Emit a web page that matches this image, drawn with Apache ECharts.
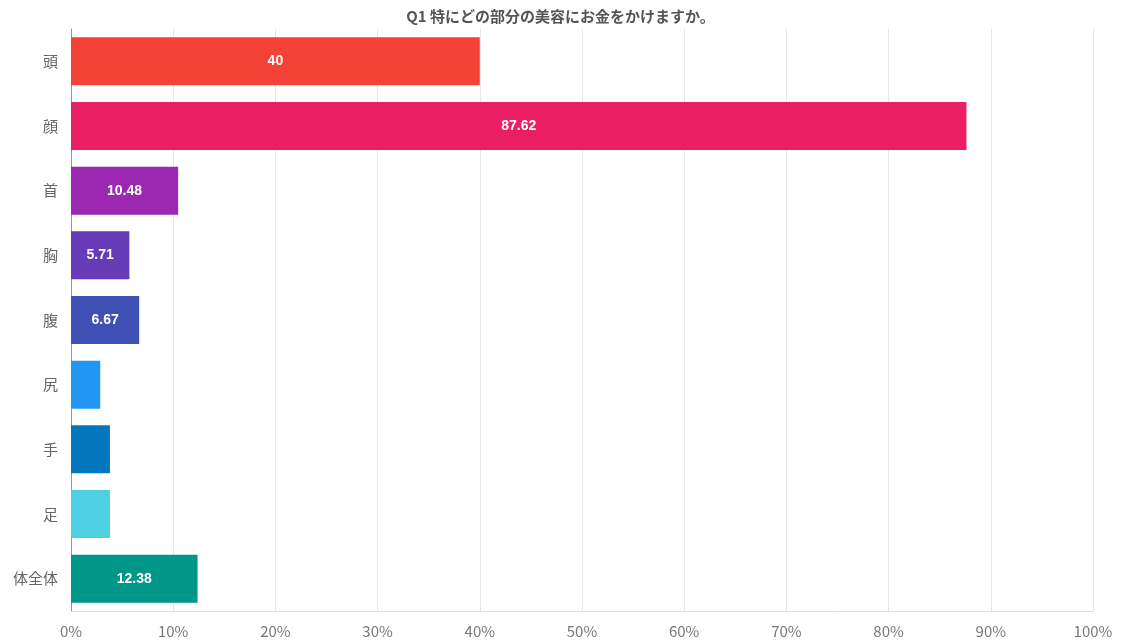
<!DOCTYPE html>
<html>
<head>
<meta charset="utf-8">
<script src="https://cdn.jsdelivr.net/npm/echarts@6/dist/echarts.min.js"></script>
<style>
  html, body { margin: 0; padding: 0; background: #ffffff; }
  #chart { width: 1121px; height: 643px; }
</style>
</head>
<body>
<div id="chart"></div>
<script>
// Body parts, top to bottom
const categories = ['頭', '顔', '首', '胸', '腹', '尻', '手', '足', '体全体'];
// Share of respondents (%)
const values = [40, 87.62, 10.48, 5.71, 6.67, 2.86, 3.81, 3.81, 12.38];
// One colour per bar
const barColors = ['#F44336', '#E91E63', '#9C27B0', '#673AB7', '#3F51B5', '#2196F3', '#0277BD', '#4DD0E1', '#009688'];
const titleText = 'Q1 特にどの部分の美容にお金をかけますか。';

const fontFamily = '"Noto Sans CJK JP", "Liberation Sans", Arial, sans-serif';

const chart = echarts.init(document.getElementById('chart'));
chart.setOption({
  animation: false,
  title: {
    text: titleText,
    left: 'center',
    top: 4,
    textStyle: { fontSize: 15, fontWeight: 'bold', color: '#555555', fontFamily }
  },
  grid: { left: 71, right: 28, top: 29, bottom: 32, containLabel: false },
  xAxis: {
    type: 'value',
    min: 0,
    max: 100,
    interval: 10,
    axisLine: { show: true, lineStyle: { color: '#dddddd' } },
    axisTick: { show: false },
    splitLine: { show: true, lineStyle: { color: '#e6e6e6' } },
    axisLabel: {
      formatter: '{value}%',
      color: '#777777',
      fontSize: 15,
      margin: 13,
      fontFamily
    }
  },
  yAxis: {
    type: 'category',
    inverse: true,
    data: categories,
    axisLine: { show: true, lineStyle: { color: '#999999' } },
    axisTick: { show: false },
    axisLabel: { color: '#666666', fontSize: 15, margin: 13, fontFamily }
  },
  series: [{
    type: 'bar',
    barWidth: 48,
    data: values.map((v, i) => ({
      value: v,
      itemStyle: { color: barColors[i] },
      label: { show: v > 5 }
    })),
    label: {
      position: 'inside',
      color: '#ffffff',
      fontWeight: 'bold',
      fontSize: 14,
      fontFamily: '"Liberation Sans", Arial, sans-serif'
    }
  }]
});
</script>
</body>
</html>
